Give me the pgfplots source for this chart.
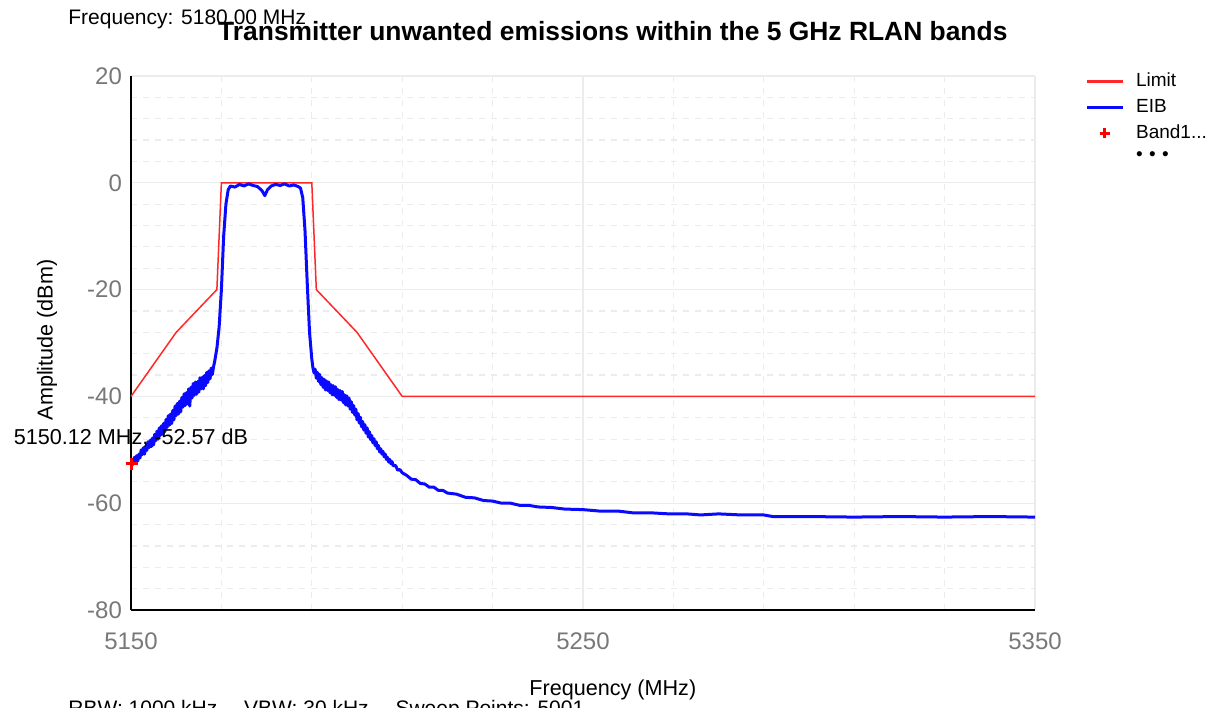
\documentclass[border=0pt]{standalone}
\usepackage{fontspec}
\setmainfont{Liberation Sans}
\usepackage{pgfplots}
\pgfplotsset{compat=1.18}
\definecolor{limitred}{RGB}{255,40,40}
\definecolor{eibblue}{RGB}{10,10,255}
\definecolor{tickgray}{RGB}{120,120,120}
\definecolor{gridgray}{RGB}{236,236,236}
\begin{document}
\begin{tikzpicture}
\useasboundingbox (0,0) rectangle (604pt,353.5pt);
\clip (0,0) rectangle (604pt,353.5pt);
\begin{axis}[
  at={(65.5pt,48.5pt)}, anchor=south west,
  scale only axis, width=452pt, height=267pt,
  xmin=5150, xmax=5350, ymin=-80, ymax=20,
  axis lines*=left,
  axis line style={black, line width=1pt},
  xtick={5150,5250,5350}, minor x tick num=4,
  ytick={-80,-60,-40,-20,0,20}, minor y tick num=4,
  major tick length=0pt, minor tick length=0pt,
  grid=both,
  major grid style={solid, gridgray, line width=0.6pt},
  minor grid style={dashed, gridgray, line width=0.6pt},
  /pgf/number format/assume math mode=true,
  /pgf/number format/set thousands separator={},
  ticklabel style={font=\fontsize{12}{14}\selectfont, text=tickgray},
  xticklabel style={yshift=-8pt},
  yticklabel style={xshift=-1pt},
  every axis title shift=0pt,
  title={\textbf{Transmitter unwanted emissions within the 5 GHz RLAN bands}},
  title style={at={(rel axis cs:0.533,1.084)}, anchor=center, font=\fontsize{13.2}{15}\selectfont},
  xlabel={Frequency (MHz)},
  xlabel style={at={(rel axis cs:0.533,-0.150)}, anchor=center, font=\fontsize{10.8}{13}\selectfont},
  ylabel={Amplitude (dBm)},
  ylabel style={at={(rel axis cs:-0.093,0.506)}, anchor=center, font=\fontsize{10.8}{13}\selectfont},
  clip=false,
  legend style={at={(rel axis cs:1.055,1.014)}, anchor=north west, draw=none, fill=none,
    font=\fontsize{9.5}{11}\selectfont, inner sep=0pt, row sep=0.8pt, column sep=4pt},
  legend cell align=left,
]
\addplot[limitred, line width=0.75pt,
  legend image code/.code={\draw[limitred,line width=1.5pt] (0pt,0pt) -- (18pt,0pt);}]
  coordinates {(5150,-40) (5160,-28) (5169,-20) (5170,0) (5190,0) (5191,-20) (5200,-28) (5210,-40) (5350,-40)};
\addlegendentry{Limit}
\addplot[eibblue, line width=1.5pt, line join=round,
  legend image code/.code={\draw[eibblue,line width=1.5pt] (0pt,0pt) -- (18pt,0pt);}]
  coordinates {
  (5150.00,-52.6) (5150.25,-52.0) (5150.50,-52.7) (5150.75,-51.4) (5151.00,-52.1) (5151.25,-51.1)
  (5151.50,-52.1) (5151.75,-50.8) (5152.00,-51.5) (5152.25,-50.0) (5152.50,-50.9) (5152.75,-49.6)
  (5153.00,-50.8) (5153.25,-49.3) (5153.50,-50.1) (5153.75,-48.5) (5154.00,-49.6) (5154.25,-48.2)
  (5154.50,-49.4) (5154.75,-47.8) (5155.00,-49.1) (5155.25,-47.1) (5155.50,-48.3) (5155.75,-46.5)
  (5156.00,-48.0) (5156.25,-45.9) (5156.50,-47.3) (5156.75,-45.5) (5157.00,-47.1) (5157.25,-45.0)
  (5157.50,-46.6) (5157.75,-44.3) (5158.00,-45.8) (5158.25,-43.6) (5158.50,-45.4) (5158.75,-43.3)
  (5159.00,-45.1) (5159.25,-42.6) (5159.50,-44.4) (5159.75,-41.8) (5160.00,-43.6) (5160.25,-41.3)
  (5160.50,-43.3) (5160.75,-40.9) (5161.00,-42.9) (5161.25,-40.2) (5161.50,-42.0) (5161.75,-39.5)
  (5162.00,-41.7) (5162.25,-39.3) (5162.50,-41.4) (5162.75,-38.6) (5163.00,-41.8) (5163.25,-38.3)
  (5163.50,-40.3) (5163.75,-37.6) (5164.00,-39.8) (5164.25,-37.3) (5164.50,-39.6) (5164.75,-37.2)
  (5165.00,-39.2) (5165.25,-36.5) (5165.50,-38.6) (5165.75,-36.4) (5166.00,-38.6) (5166.25,-36.1)
  (5166.50,-38.0) (5166.75,-35.5) (5167.00,-37.4) (5167.25,-35.2) (5167.50,-36.7) (5167.75,-34.7)
  (5168.00,-35.9) (5168.25,-34.5) (5168.50,-33.5) (5169.00,-31.0) (5169.50,-27.0) (5170.00,-20.0)
  (5170.50,-10.0) (5171.00,-4.0) (5171.50,-1.3) (5172.00,-0.6) (5173.00,-0.8) (5174.00,-0.3)
  (5175.00,-0.6) (5176.00,-0.2) (5177.00,-0.5) (5178.00,-0.7) (5179.00,-1.5) (5179.60,-2.4)
  (5180.20,-1.3) (5181.00,-0.6) (5182.00,-0.3) (5183.00,-0.5) (5184.00,-0.2) (5185.00,-0.6)
  (5186.00,-0.4) (5187.00,-0.7) (5187.50,-1.0) (5188.00,-2.8) (5188.50,-9.0) (5189.00,-19.0)
  (5189.50,-28.0) (5190.00,-33.0) (5190.25,-34.6)
  (5190.50,-35.6) (5190.75,-34.9) (5191.00,-36.6) (5191.25,-35.5) (5191.50,-37.2) (5191.75,-35.9)
  (5192.00,-37.8) (5192.25,-36.5) (5192.50,-38.3) (5192.75,-36.8) (5193.00,-38.8) (5193.25,-37.1)
  (5193.50,-38.9) (5193.75,-37.3) (5194.00,-39.3) (5194.25,-37.8) (5194.50,-39.7) (5194.75,-38.0)
  (5195.00,-39.8) (5195.25,-38.2) (5195.50,-40.2) (5195.75,-38.7) (5196.00,-40.6) (5196.25,-38.9)
  (5196.50,-40.7) (5196.75,-39.1) (5197.00,-41.2) (5197.25,-39.7) (5197.50,-41.6) (5197.75,-39.9)
  (5198.00,-41.8) (5198.25,-40.3) (5198.50,-42.4) (5198.75,-41.0) (5199.00,-43.0) (5199.25,-41.7)
  (5199.50,-43.5) (5199.75,-42.4) (5200.00,-44.4) (5200.25,-43.2) (5200.50,-45.0) (5200.75,-43.9)
  (5201.00,-45.7) (5201.25,-44.7) (5201.50,-46.3) (5201.75,-45.3) (5202.00,-46.9) (5202.25,-45.9)
  (5202.50,-47.6) (5202.75,-46.6) (5203.00,-48.1) (5203.25,-47.3) (5203.50,-48.7) (5203.75,-47.9)
  (5204.00,-49.2) (5204.25,-48.5) (5204.50,-49.8) (5204.75,-49.2) (5205.00,-50.4) (5205.25,-49.8)
  (5205.50,-50.8) (5205.75,-50.3) (5206.00,-51.3) (5206.25,-50.8) (5206.50,-51.8) (5206.75,-51.4)
  (5207.00,-52.3) (5207.25,-51.8) (5207.50,-52.6) (5207.75,-52.2) (5208.00,-53.0) (5208.50,-52.9)
  (5209.00,-53.8) (5209.50,-53.7) (5210.00,-54.3)
  (5211,-54.8) (5212,-55.5) (5213,-55.6) (5214,-56.3) (5215,-56.4) (5216,-57.0) (5217,-57.0)
  (5218,-57.6) (5219,-57.6) (5220,-58.1) (5222,-58.3) (5224,-58.9) (5226,-59.0) (5228,-59.5)
  (5230,-59.6) (5232,-60.0) (5234,-60.0) (5236,-60.4) (5238,-60.4) (5240,-60.7) (5243,-60.8)
  (5246,-61.1) (5250,-61.2) (5254,-61.5) (5258,-61.5) (5261,-61.8) (5265,-61.8) (5269,-62.0)
  (5273,-62.0) (5276,-62.2) (5280,-62.0) (5285,-62.2) (5290,-62.2) (5292,-62.5) (5300,-62.5)
  (5310,-62.6) (5320,-62.5) (5330,-62.6) (5340,-62.5) (5350,-62.6)};
\addlegendentry{EIB}
\addplot[only marks, mark=+, mark size=3pt, red, line width=1.6pt,
  legend image code/.code={\draw[red,line width=1.4pt] (6.5pt,0pt) -- (11.5pt,0pt) (9pt,-2.5pt) -- (9pt,2.5pt);}]
  coordinates {(5150.12,-52.57)};
\addlegendentry{Band1...}
\addlegendimage{empty legend}
\addlegendentry{\textbullet\,\,\textbullet\,\,\textbullet}
\node[font=\fontsize{10.8}{13}\selectfont, anchor=center] at (axis cs:5150,-47.8) {5150.12 MHz, -52.57 dB};
\end{axis}
\node[anchor=west, inner sep=0pt, font=\fontsize{10.5}{12}\selectfont] at (34pt,344pt) {Frequency: 5180.00 MHz};
\node[anchor=north west, inner sep=0pt, font=\fontsize{10.5}{12}\selectfont] at (34pt,3.5pt) {RBW: 1000 kHz \quad VBW: 30 kHz \quad Sweep Points: 5001};
\end{tikzpicture}
\end{document}
